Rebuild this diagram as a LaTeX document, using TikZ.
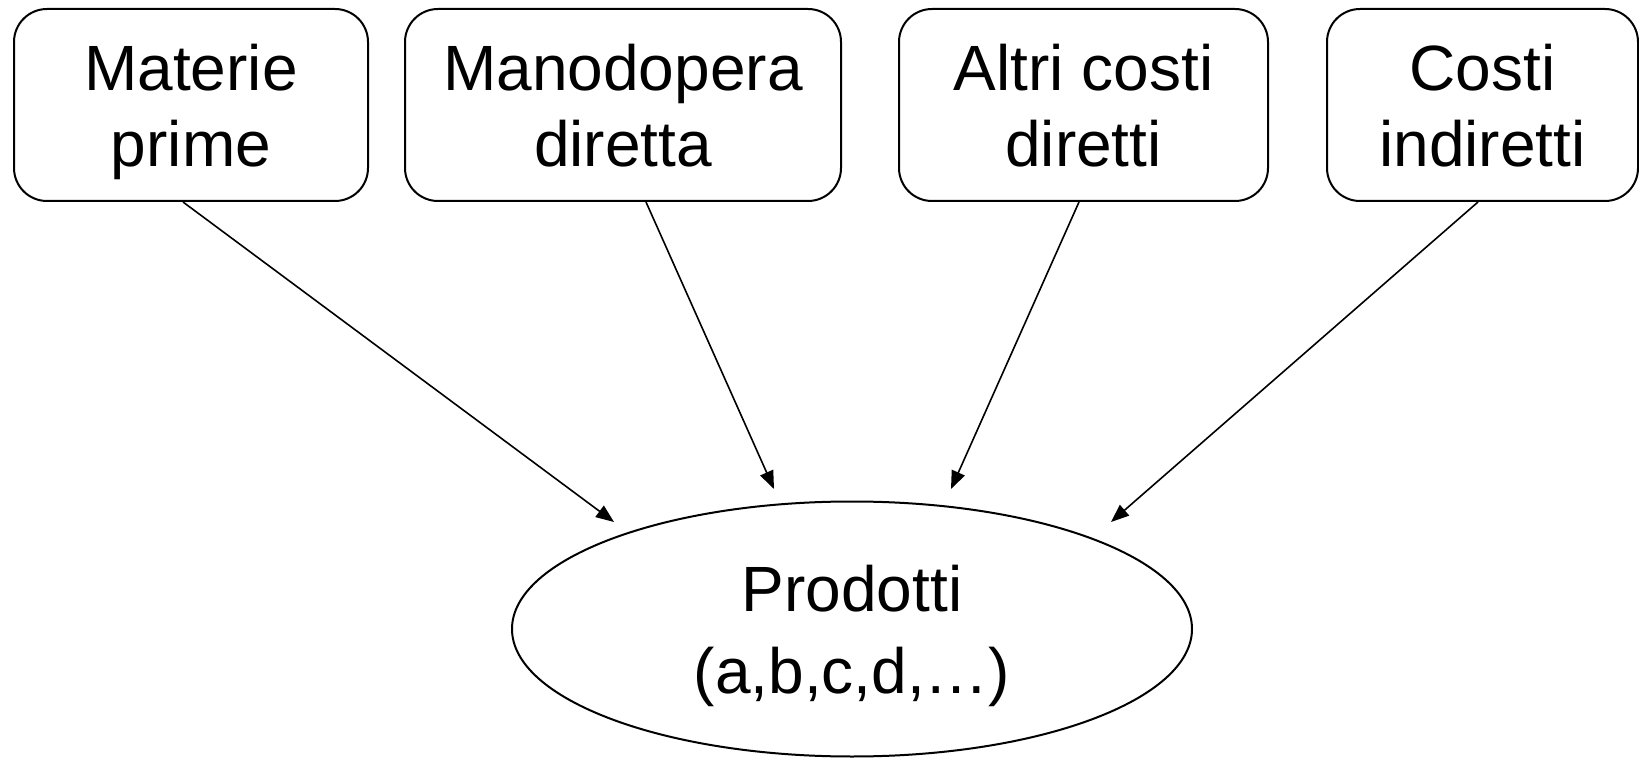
\documentclass[tikz,border=0pt]{standalone}
\usepackage{fontspec}
\setmainfont{Liberation Sans}
\usetikzlibrary{arrows.meta,shapes.geometric,calc}
\begin{document}
\begin{tikzpicture}[x=1pt,y=-1pt,
  costbox/.style={draw, line width=2pt, rounded corners=33pt, minimum height=192pt, inner sep=0pt, align=center,
    text depth=0pt, font=\fontsize{64}{76}\selectfont},
  prodnode/.style={draw, ellipse, line width=2pt, minimum width=680pt, minimum height=255pt, inner sep=0pt, align=center,
    text depth=-9pt, font=\fontsize{64}{82}\selectfont},
  flow/.style={line width=1.6pt, -{Triangle[length=18pt,width=14pt]}}]
\useasboundingbox (0,0) rectangle (1639,759);
\node[costbox, minimum width=354pt] (b1) at (191,105) {Materie\\prime};
\node[costbox, minimum width=436pt] (b2) at (623,105) {Manodopera\\diretta};
\node[costbox, minimum width=369pt] (b3) at (1083.5,105) {Altri costi\\diretti};
\node[costbox, minimum width=311pt] (b4) at (1482.5,105) {Costi\\indiretti};
\node[prodnode] (p) at (852,629) {Prodotti\\(a,b,c,d,\ldots)};
\coordinate (t1) at (614,522);
\coordinate (t2) at (774,489);
\coordinate (t3) at (951,489);
\coordinate (t4) at (1111,522);
\draw[flow] ($(b1.south)+(-8,0)$) -- (t1);
\draw[flow] ($(b2.south)+(23,0)$) -- (t2);
\draw[flow] ($(b3.south)+(-4.5,0)$) -- (t3);
\draw[flow] ($(b4.south)+(-4.5,0)$) -- (t4);
\end{tikzpicture}
\end{document}
